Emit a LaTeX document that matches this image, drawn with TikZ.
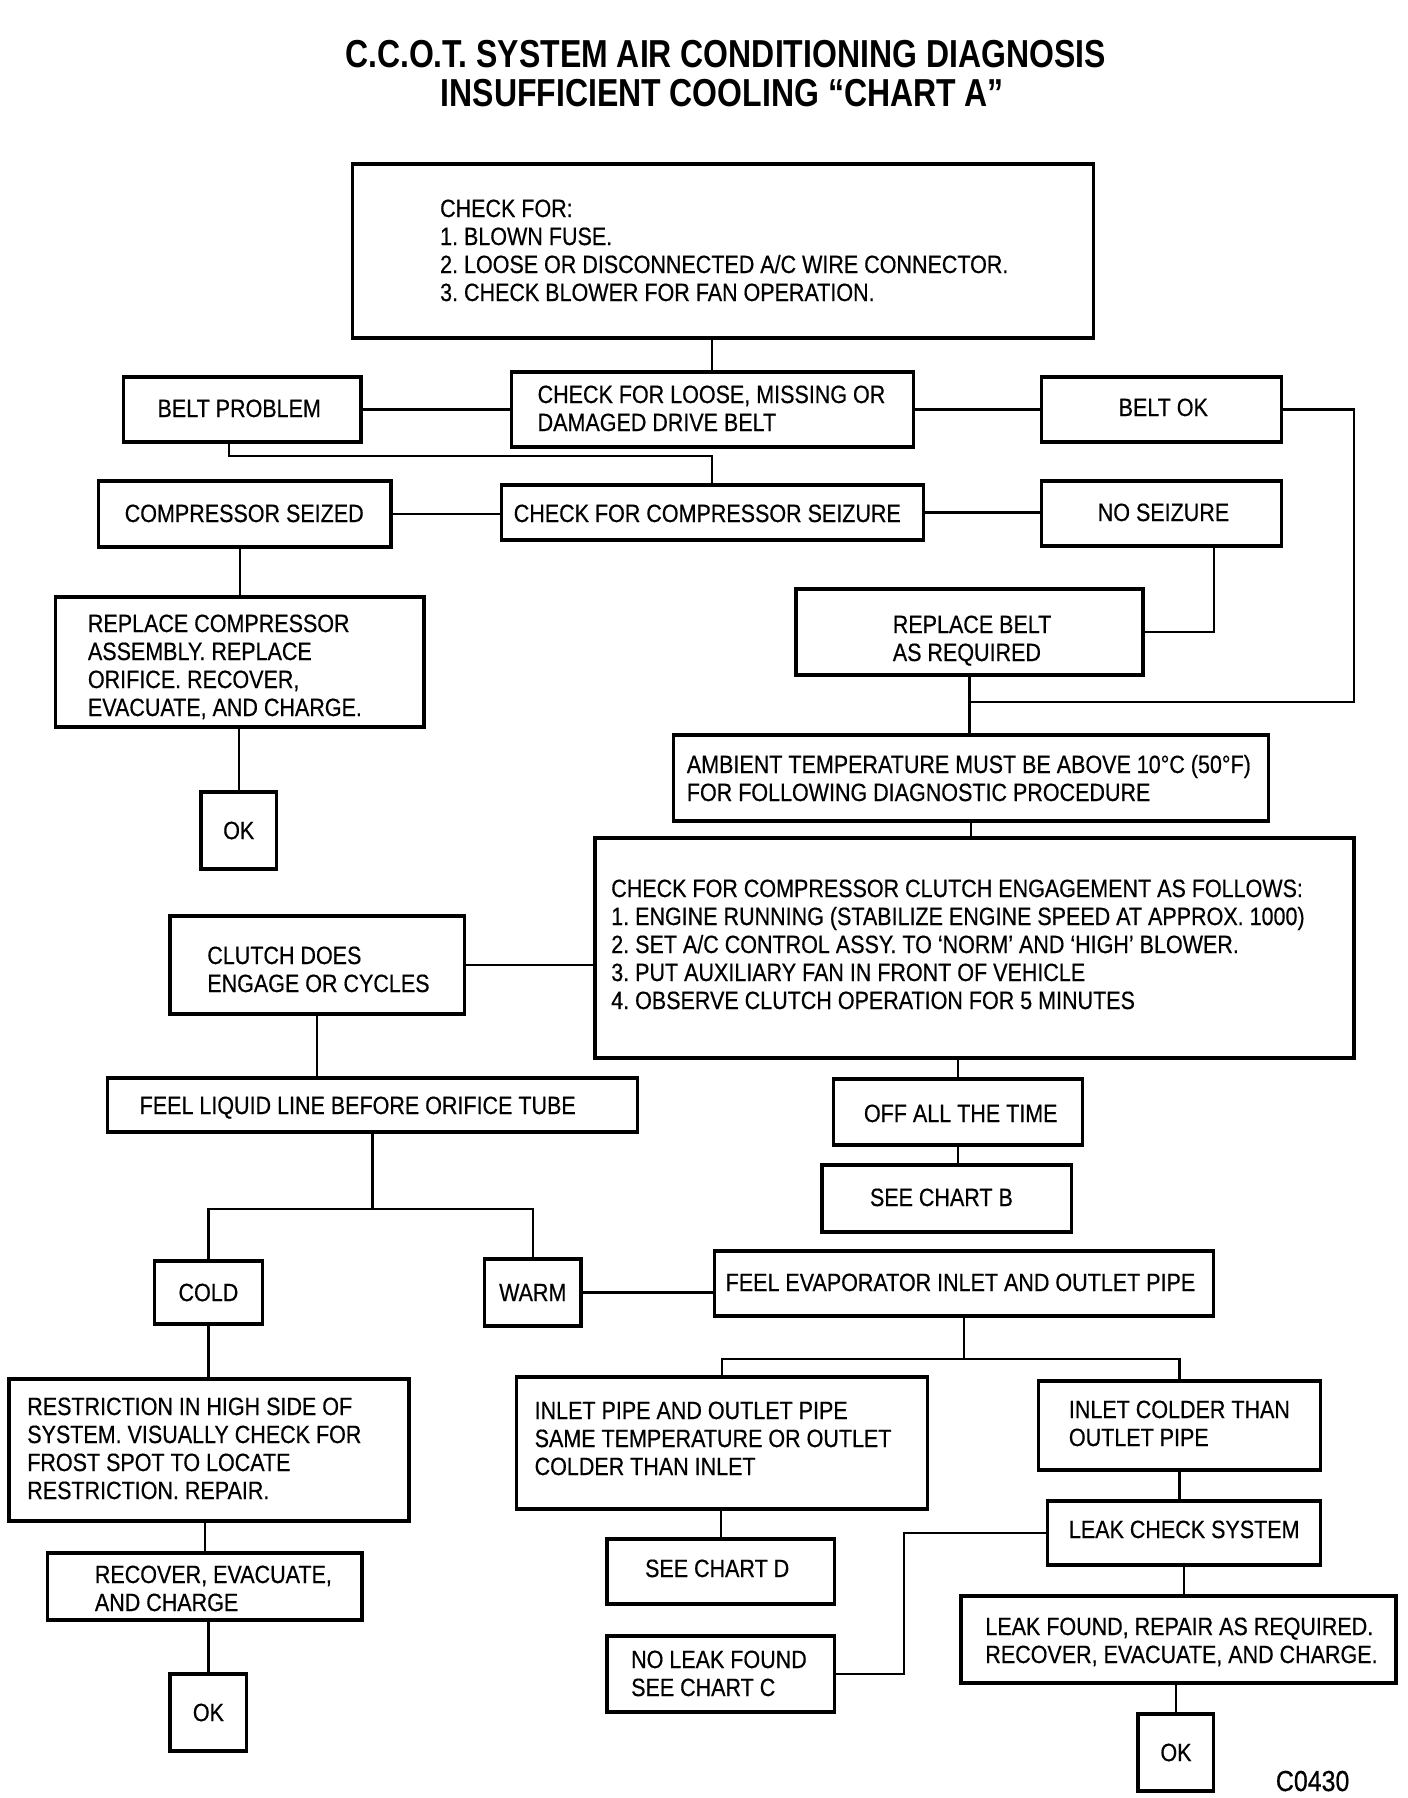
\documentclass[tikz,border=0pt]{standalone}
\usepackage{fontspec}
\setmainfont{Liberation Sans}[FakeStretch=0.86,FakeBold=0.5]
\newfontfamily\titlefont{Liberation Sans}[FakeStretch=0.82]
\usetikzlibrary{fit}
\begin{document}
\begin{tikzpicture}[x=0.49745pt,y=-0.5pt,
  box/.style={draw, line width=1.7pt, inner sep=0pt},
  txt/.style={inner sep=0pt, align=left, font=\fontsize{12.5}{14}\selectfont, anchor=base west},
  ctr/.style={inner sep=0pt, font=\fontsize{12.5}{14}\selectfont},
  ttl/.style={inner sep=0pt, anchor=base, font=\titlefont\bfseries\fontsize{19.5}{20}\selectfont},
  con/.style={line width=1.1pt}]
\useasboundingbox (0,0) rectangle (1415.2,1798);
% title
\node[ttl] (title1) at (729,68) {C.C.O.T. SYSTEM AIR CONDITIONING DIAGNOSIS};
\node[ttl] (title2) at (726,106) {INSUFFICIENT COOLING \textquotedblleft CHART A\textquotedblright};
% boxes
\node[box, fit={(354,164) (1099,338)}] (top) {};
\node[box, fit={(514,372) (918,447)}] (checkbelt) {};
\node[box, fit={(124,377) (363,442)}] (beltprob) {};
\node[box, fit={(1047,377) (1288,442)}] (beltok) {};
\node[box, fit={(99,481) (393,547)}] (seized) {};
\node[box, fit={(504,485) (928,540)}] (seizure) {};
\node[box, fit={(1047,481) (1288,546)}] (noseiz) {};
\node[box, fit={(56,597) (426,727)}] (replcomp) {};
\node[box, fit={(202,792) (278,869)}] (ok1) {};
\node[box, fit={(800,589) (1149,675)}] (replbelt) {};
\node[box, fit={(677,735) (1275,821)}] (ambient) {};
\node[box, fit={(598,838) (1361,1058)}] (clutchchk) {};
\node[box, fit={(171,916) (467,1014)}] (clutchdoes) {};
\node[box, fit={(108,1078) (641,1132)}] (feelliq) {};
\node[box, fit={(838,1079) (1088,1145)}] (offall) {};
\node[box, fit={(826,1165) (1077,1232)}] (chartb) {};
\node[box, fit={(155,1261) (264,1324)}] (cold) {};
\node[box, fit={(487,1259) (584,1326)}] (warm) {};
\node[box, fit={(718,1251) (1220,1316)}] (feelevap) {};
\node[box, fit={(9,1379) (411,1521)}] (restr) {};
\node[box, fit={(48,1553) (364,1620)}] (recover) {};
\node[box, fit={(171,1674) (248,1751)}] (ok2) {};
\node[box, fit={(519,1377) (932,1509)}] (inletpipe) {};
\node[box, fit={(1044,1381) (1327,1470)}] (inletcold) {};
\node[box, fit={(1053,1501) (1327,1565)}] (leakchk) {};
\node[box, fit={(610,1539) (839,1604)}] (chartd) {};
\node[box, fit={(610,1636) (839,1712)}] (noleak) {};
\node[box, fit={(966,1596) (1403,1683)}] (leakfound) {};
\node[box, fit={(1144,1714) (1220,1791)}] (ok3) {};
% texts (multi-line nodes are placed by the baseline of their last line)
\node[txt] (tTop) at (442,301) {CHECK FOR:\\1.\ BLOWN FUSE.\\2.\ LOOSE OR DISCONNECTED A/C WIRE CONNECTOR.\\3.\ CHECK BLOWER FOR FAN OPERATION.};
\node[txt] (tCheckbelt) at (540,431) {CHECK FOR LOOSE, MISSING OR\\DAMAGED DRIVE BELT};
\node[txt] (tBeltprob) at (158,417) {BELT PROBLEM};
\node[txt] (tBeltok) at (1124,416) {BELT OK};
\node[txt] (tSeized) at (125,522) {COMPRESSOR SEIZED};
\node[txt] (tSeizure) at (516,522) {CHECK FOR COMPRESSOR SEIZURE};
\node[txt] (tNoseiz) at (1103,521) {NO SEIZURE};
\node[txt] (tReplcomp) at (88,716) {REPLACE COMPRESSOR\\ASSEMBLY. REPLACE\\ORIFICE. RECOVER,\\EVACUATE, AND CHARGE.};
\node[ctr] (tOk1) at (ok1) {OK};
\node[txt] (tReplbelt) at (897,661) {REPLACE BELT\\AS REQUIRED};
\node[txt] (tAmbient) at (690,801) {AMBIENT TEMPERATURE MUST BE ABOVE 10\textdegree C (50\textdegree F)\\FOR FOLLOWING DIAGNOSTIC PROCEDURE};
\node[txt] (tClutchchk) at (614,1009) {CHECK FOR COMPRESSOR CLUTCH ENGAGEMENT AS FOLLOWS:\\1.\ ENGINE RUNNING (STABILIZE ENGINE SPEED AT APPROX.\ 1000)\\2.\ SET A/C CONTROL ASSY.\ TO `NORM' AND `HIGH' BLOWER.\\3.\ PUT AUXILIARY FAN IN FRONT OF VEHICLE\\4.\ OBSERVE CLUTCH OPERATION FOR 5 MINUTES};
\node[txt] (tClutchdoes) at (208,992) {CLUTCH DOES\\ENGAGE OR CYCLES};
\node[txt] (tFeelliq) at (140,1114) {FEEL LIQUID LINE BEFORE ORIFICE TUBE};
\node[txt] (tOffall) at (868,1122) {OFF ALL THE TIME};
\node[txt] (tChartb) at (874,1206) {SEE CHART B};
\node[ctr] (tCold) at (cold) {COLD};
\node[ctr] (tWarm) at (warm) {WARM};
\node[txt] (tFeelevap) at (729,1291) {FEEL EVAPORATOR INLET AND OUTLET PIPE};
\node[txt] (tRestr) at (27,1499) {RESTRICTION IN HIGH SIDE OF\\SYSTEM. VISUALLY CHECK FOR\\FROST SPOT TO LOCATE\\RESTRICTION. REPAIR.};
\node[txt] (tRecover) at (95,1611) {RECOVER, EVACUATE,\\AND CHARGE};
\node[ctr] (tOk2) at (ok2) {OK};
\node[txt] (tInletpipe) at (537,1475) {INLET PIPE AND OUTLET PIPE\\SAME TEMPERATURE OR OUTLET\\COLDER THAN INLET};
\node[txt] (tInletcold) at (1074,1446) {INLET COLDER THAN\\OUTLET PIPE};
\node[txt] (tLeakchk) at (1074,1538) {LEAK CHECK SYSTEM};
\node[txt] (tChartd) at (648,1577) {SEE CHART D};
\node[txt] (tNoleak) at (634,1696) {NO LEAK FOUND\\SEE CHART C};
\node[txt] (tLeakfound) at (990,1663) {LEAK FOUND, REPAIR AS REQUIRED.\\RECOVER, EVACUATE, AND CHARGE.};
\node[ctr] (tOk3) at (ok3) {OK};
\node[txt, font=\fontsize{14.5}{16}\selectfont] (code) at (1282,1791) {C0430};
% connectors
\draw[con] (checkbelt.north) -- (checkbelt.north |- top.south);
\draw[con] (beltprob.east) -- (checkbelt.west);
\draw[con] (checkbelt.east) -- (beltok.west);
\coordinate (j1) at (replbelt.south |- 0,702);
\draw[con] (beltok.east) -| (1361,702) -- (j1);
\draw[con] ([xshift=-6.5pt]beltprob.south) -- ++(0,12) -| (seizure.north);
\draw[con] (seized.east) -- (seized.east -| seizure.west);
\draw[con] (seizure.east) -- (seizure.east -| noseiz.west);
\draw[con] (replcomp.north) -- (replcomp.north |- seized.south);
\draw[con] (ok1.north) -- (ok1.north |- replcomp.south);
\draw[con] ([xshift=26.1pt]noseiz.south) |- (replbelt.east);
\draw[con] (replbelt.south) -- (replbelt.south |- ambient.north);
\draw[con] (ambient.south) -- (ambient.south |- clutchchk.north);
\draw[con] (clutchdoes.east) -- (clutchdoes.east -| clutchchk.west);
\draw[con] (clutchdoes.south) -- (clutchdoes.south |- feelliq.north);
\draw[con] (feelliq.south) -- ++(0,75) coordinate (j2);
\draw[con] (cold.north) -- (cold.north |- j2) -- (warm.north |- j2) -- (warm.north);
\draw[con] (warm.east) -- (warm.east -| feelevap.west);
\draw[con] (offall.north |- clutchchk.south) -- (offall.north);
\draw[con] (offall.south) -- (offall.south |- chartb.north);
\draw[con] (feelevap.south) -- ++(0,41) coordinate (j3);
\draw[con] (inletpipe.north) -- (inletpipe.north |- j3) -- (inletcold.north |- j3) -- (inletcold.north);
\draw[con] (chartd.north) -- (chartd.north |- inletpipe.south);
\draw[con] (inletcold.south) -- (inletcold.south |- leakchk.north);
\draw[con] (leakchk.west) -- ++(-143,0) |- (noleak.east);
\draw[con] (leakchk.south) -- (leakchk.south |- leakfound.north);
\draw[con] (ok3.north) -- (ok3.north |- leakfound.south);
\draw[con] (cold.south) -- (cold.south |- restr.north);
\draw[con] (recover.north) -- (recover.north |- restr.south);
\draw[con] (ok2.north) -- (ok2.north |- recover.south);
\end{tikzpicture}
\end{document}
